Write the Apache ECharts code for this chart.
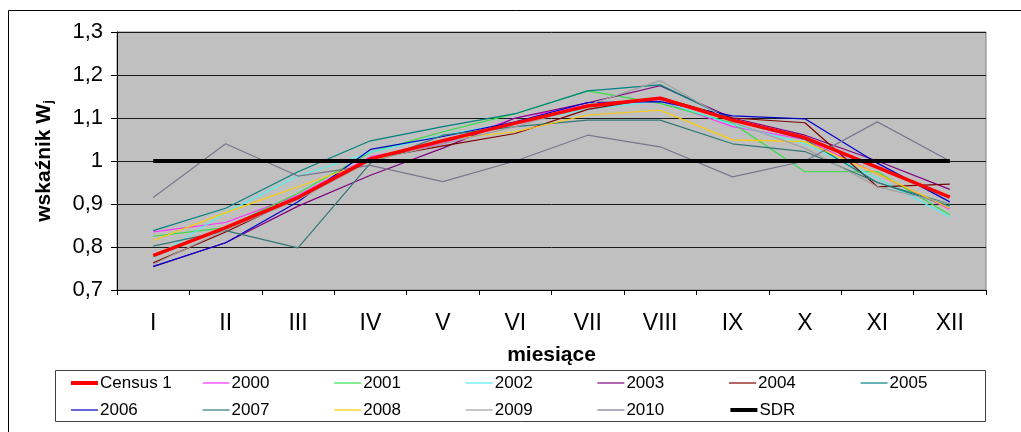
<!DOCTYPE html>
<html>
<head>
<meta charset="utf-8">
<script src="https://cdn.jsdelivr.net/npm/echarts@6/dist/echarts.min.js"></script>
<style>html,body{margin:0;padding:0;background:#fff}#c{width:1021px;height:432px}</style>
</head>
<body>
<div id="c"></div>
<script>
const months = ['I','II','III','IV','V','VI','VII','VIII','IX','X','XI','XII'];
const yTicks = [0.7, 0.8, 0.9, 1.0, 1.1, 1.2, 1.3];
const census1 = [0.780, 0.845, 0.915, 1.005, 1.047, 1.088, 1.128, 1.146, 1.095, 1.054, 0.985, 0.916];
const y2000 = [0.835, 0.857, 0.920, 1.010, 1.040, 1.100, 1.130, 1.140, 1.080, 1.050, 0.970, 0.888];
const y2001 = [0.825, 0.845, 0.925, 1.020, 1.068, 1.110, 1.163, 1.134, 1.088, 0.975, 0.975, 0.875];
const y2002 = [0.774, 0.880, 0.965, 1.020, 1.060, 1.090, 1.120, 1.140, 1.085, 1.040, 0.960, 0.870];
const y2003 = [0.754, 0.810, 0.895, 0.967, 1.030, 1.100, 1.135, 1.175, 1.100, 1.060, 1.000, 0.934];
const y2004 = [0.763, 0.835, 0.915, 1.005, 1.035, 1.064, 1.120, 1.148, 1.100, 1.089, 0.940, 0.946];
const y2005 = [0.838, 0.890, 0.975, 1.047, 1.080, 1.110, 1.163, 1.177, 1.095, 1.050, 0.950, 0.895];
const y2006 = [0.755, 0.810, 0.905, 1.027, 1.057, 1.091, 1.136, 1.138, 1.105, 1.098, 0.995, 0.905];
const y2007 = [0.802, 0.838, 0.798, 0.995, 1.060, 1.080, 1.095, 1.095, 1.040, 1.022, 0.950, 0.900];
const y2008 = [0.815, 0.880, 0.940, 1.000, 1.050, 1.068, 1.107, 1.118, 1.049, 1.045, 0.970, 0.890];
const y2009 = [0.760, 0.840, 0.910, 1.000, 1.040, 1.080, 1.130, 1.187, 1.090, 1.030, 0.940, 0.900];
const y2010 = [0.915, 1.040, 0.965, 0.990, 0.952, 1.000, 1.060, 1.033, 0.963, 1.000, 1.091, 1.000];
const sdr = [1, 1, 1, 1, 1, 1, 1, 1, 1, 1, 1, 1];

const seriesNames = ['Census 1','2000','2001','2002','2003','2004','2005','2006','2007','2008','2009','2010','SDR'];
const seriesData = [census1, y2000, y2001, y2002, y2003, y2004, y2005, y2006, y2007, y2008, y2009, y2010, sdr];
const seriesColors = ['#ff0000','#ff33ff','#33dd44','#55eeee','#800080','#800000','#008080','#0000cc','#337777','#ffcc00','#a0a0a0','#77778f','#000000'];
const seriesWidths = [3.5,1.2,1.2,1.2,1.2,1.2,1.2,1.2,1.2,1.2,1.2,1.2,4];

const FONT = "'Liberation Sans Narrow', 'Liberation Sans', Arial, sans-serif";
const chart = echarts.init(document.getElementById('c'));

const series = seriesNames.map((n, i) => ({
  name: n,
  type: 'line',
  data: seriesData[i],
  symbol: 'none',
  smooth: false,
  z: (i === 0 || i === seriesNames.length - 1) ? 5 : 3,
  lineStyle: { color: seriesColors[i], width: seriesWidths[i] },
  itemStyle: { color: seriesColors[i] },
  emphasis: { disabled: true },
  animation: false
}));

const legendData = seriesNames.map((n, i) => ({
  name: n,
  lineStyle: { width: seriesWidths[i] > 2 ? 4 : 1.2 }
}));

chart.setOption({
  animation: false,
  textStyle: { fontFamily: FONT },
  graphic: [
    { type: 'rect', shape: { x: 8.5, y: 10.5, width: 1100, height: 500 }, style: { fill: 'none', stroke: '#000', lineWidth: 1 }, z: -10 },
    { type: 'rect', shape: { x: 55.5, y: 370.5, width: 930, height: 51 }, style: { fill: '#fff', stroke: '#404040', lineWidth: 1 }, z: -5 }
  ],
  grid: { left: 117, right: 35, top: 32, bottom: 142, show: true, backgroundColor: '#c0c0c0', borderColor: '#808080', borderWidth: 1 },
  legend: {
    left: 64, top: 368, width: 940,
    itemWidth: 27, itemHeight: 14, itemGap: 7,
    data: legendData,
    itemStyle: { opacity: 0 },
    textStyle: { fontFamily: FONT, fontSize: 17, color: '#000', width: 95, lineHeight: 20, padding: [0,0,0,-3] },
    selectedMode: false
  },
  xAxis: {
    type: 'category',
    data: months,
    boundaryGap: true,
    axisLine: { lineStyle: { color: '#000', width: 1 } },
    axisTick: { show: true, length: 5, lineStyle: { color: '#000' } },
    axisLabel: { fontFamily: FONT, fontSize: 23, color: '#000', margin: 22 },
    name: 'miesiące',
    nameLocation: 'middle',
    nameGap: 55,
    nameTextStyle: { fontFamily: FONT, fontSize: 21, fontWeight: 'bold', color: '#000' }
  },
  yAxis: {
    type: 'value',
    min: 0.7, max: 1.3, interval: 0.1,
    axisLine: { show: true, lineStyle: { color: '#000', width: 1 } },
    axisTick: { show: true, length: 6, lineStyle: { color: '#000' } },
    splitLine: { show: true, lineStyle: { color: '#1a1a1a', width: 1 } },
    axisLabel: {
      fontFamily: FONT, fontSize: 22, color: '#000', margin: 14,
      formatter: v => String(Math.round(v * 10) / 10).replace('.', ',')
    },
    name: 'wskaźnik W{sub|j}',
    nameLocation: 'middle',
    nameGap: 62,
    nameRotate: 90,
    nameTextStyle: {
      fontFamily: FONT, fontSize: 21, fontWeight: 'bold', color: '#000',
      rich: { sub: { fontFamily: FONT, fontSize: 13, fontWeight: 'bold', verticalAlign: 'bottom', padding: [8,0,0,0], color: '#000' } }
    }
  },
  series: series
});
</script>
</body>
</html>
